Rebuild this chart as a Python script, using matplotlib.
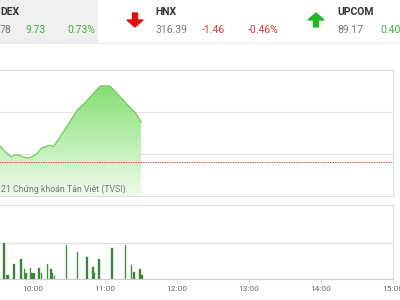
import numpy as np
import matplotlib
matplotlib.use('Agg')
import matplotlib.pyplot as plt
from matplotlib.patches import Polygon, Rectangle

plt.rcParams['font.family'] = ['Roboto', 'DejaVu Sans']

# header boxes (index name, value, change, percent)
hdr_names = ['DEX', 'HNX', 'UPCOM']
hdr_values = ['78', '316.39', '89.17']
hdr_change = ['9.73', '-1.46', '']
hdr_pct = ['0.73%', '-0.46%', '0.40%']

# intraday index line (time, points)
price_time = ['9:32', '9:35', '9:42', '9:45', '9:47', '9:52', '9:55', '9:59',
              '10:03', '10:07', '10:14', '10:17', '10:22', '10:37', '10:43',
              '10:56', '11:04', '11:15', '11:22', '11:25', '11:30']
price_val = [1337.1, 1336.0, 1334.3, 1334.8, 1334.8, 1334.3, 1334.0, 1334.3,
             1335.0, 1336.4, 1337.1, 1336.7, 1338.8, 1345.5, 1347.1,
             1351.2, 1351.2, 1347.9, 1345.7, 1345.0, 1342.6]
ref_price = 1333.1

# matched volume bars
vol_time = ['9:36', '9:38', '9:39', '9:44', '9:50', '9:53', '9:54', '9:58',
            '9:59', '10:01', '10:05', '10:07', '10:12', '10:15', '10:16',
            '10:18', '10:28', '10:37', '10:45', '10:50', '10:51', '10:55',
            '11:06', '11:17', '11:22', '11:24', '11:29', '11:31']
vol_val = [1.0, 0.11, 0.11, 0.42, 0.56, 0.28, 0.17, 0.31, 0.17, 0.17, 0.31,
           0.17, 0.42, 0.28, 0.17, 0.08, 0.94, 0.75, 0.61, 0.33, 0.17, 0.56,
           0.86, 0.94, 0.39, 0.19, 0.28, 0.11]

hour_ticks = ['10:00', '11:00', '12:00', '13:00', '14:00', '15:00']


def hrs(s):
	h, m = s.split(':')
	return int(h) + int(m) / 60.0

W, H = 400, 300
def px(x, y):
	return x / W, 1 - y / H

fig = plt.figure(figsize=(4, 3), dpi=100)

# ---- header
fig.patches.append(Rectangle((0, 1 - 42 / H), 97 / W, 42 / H, transform=fig.transFigure,
                             color='#efefef', zorder=0))
fig.lines.append(plt.Line2D([0, 1], [1 - 42.5 / H] * 2, transform=fig.transFigure,
                            color='#eeeeee', lw=0.8))

green_t = '#3cb33c'
red_t = '#d23c3c'
fig.text(*px(0, 12), hdr_names[0], fontsize=7.5, fontweight='bold', color='#333333', va='center')
fig.text(*px(0, 30), hdr_values[0], fontsize=7.5, color='#777777', va='center')
fig.text(*px(25, 30), hdr_change[0], fontsize=7.5, color=green_t, va='center')
fig.text(*px(67, 30), hdr_pct[0], fontsize=7.5, color=green_t, va='center')

fig.text(*px(155, 12), hdr_names[1], fontsize=7.5, fontweight='bold', color='#333333', va='center')
fig.text(*px(155, 30), hdr_values[1], fontsize=7.5, color='#777777', va='center')
fig.text(*px(202, 30), hdr_change[1], fontsize=7.5, color=red_t, va='center')
fig.text(*px(248, 30), hdr_pct[1], fontsize=7.5, color=red_t, va='center')

fig.text(*px(337, 12), hdr_names[2], fontsize=7.5, fontweight='bold', color='#333333', va='center')
fig.text(*px(337, 30), hdr_values[2], fontsize=7.5, color='#777777', va='center')
fig.text(*px(380, 30), hdr_pct[2], fontsize=7.5, color=green_t, va='center')

# arrows
def arrow(cx, cy, up, color):
	s = -1 if up else 1
	pts = [(-2.5, -7), (2.5, -7), (2.5, 0), (8, 0), (0, 7), (-8, 0), (-2.5, 0)]
	pts = [px(cx + a, cy + s * b) for a, b in pts]
	fig.patches.append(Polygon(pts, closed=True, transform=fig.transFigure,
	                           color=color, zorder=3))

arrow(135, 20, False, '#e01010')
arrow(316, 20, True, '#22b822')

# ---- price panel
x0 = -39 / W
aw = 432 / W
ax = fig.add_axes([x0, 1 - 196 / H, aw, 126 / H])
ax.set_xlim(9, 15)
ax.set_ylim(1325, 1355)
tx = np.array([hrs(t) for t in price_time])
ty = np.array(price_val)

grad = np.linspace(0, 1, 256).reshape(-1, 1)
top_c = np.array([130, 222, 112]) / 255.0
bot_c = np.array([240, 252, 237]) / 255.0
img = top_c * (1 - grad[..., None]) + bot_c * grad[..., None]
img = img.reshape(256, 1, 3)
im = ax.imshow(img, extent=[9, 15, 1325, 1352], aspect='auto', zorder=1, origin='upper')
poly = Polygon(np.column_stack([np.r_[tx, tx[-1], tx[0]], np.r_[ty, 1325, 1325]]),
               closed=True, facecolor='none', edgecolor='none')
ax.add_patch(poly)
im.set_clip_path(poly)
ax.plot(tx, ty, color='#72c95f', lw=0.9, zorder=3)

for g in [1335, 1345]:
	ax.axhline(g, color='#e2e2e2', lw=0.8, zorder=0)
ax.axhline(ref_price, color='#c85050', lw=0.7, ls=(0, (1.5, 1)), zorder=4)
for s in ['top', 'right', 'bottom']:
	ax.spines[s].set_color('#dddddd')
	ax.spines[s].set_linewidth(0.8)
ax.spines['left'].set_visible(False)
ax.set_xticks([])
ax.set_yticks([])

fig.text(*px(1, 189), '21 Chứng khoán Tân Việt (TVSI)', fontsize=6.3, color='#777777', va='center')

# ---- volume panel
vx = fig.add_axes([x0, 1 - 279 / H, aw, 74 / H])
vx.set_xlim(9, 15)
vx.set_ylim(0, 2.05)
vx.bar([hrs(t) for t in vol_time], vol_val, width=1.3 / 60, color='#2f7d32',
       edgecolor='#5aa35a', linewidth=0.3, zorder=3)
vx.axhline(1.0, color='#e2e2e2', lw=0.8, zorder=0)
for s in ['top', 'right']:
	vx.spines[s].set_color('#dddddd')
	vx.spines[s].set_linewidth(0.8)
vx.spines['bottom'].set_color('#cccccc')
vx.spines['bottom'].set_linewidth(0.8)
vx.spines['left'].set_visible(False)
vx.set_yticks([])
vx.set_xticks([hrs(t) for t in hour_ticks])
vx.set_xticklabels(hour_ticks, fontsize=6, color='#666666')
vx.tick_params(axis='x', length=3, width=0.6, color='#cccccc', pad=2)

fig.savefig('out.png', dpi=100)
